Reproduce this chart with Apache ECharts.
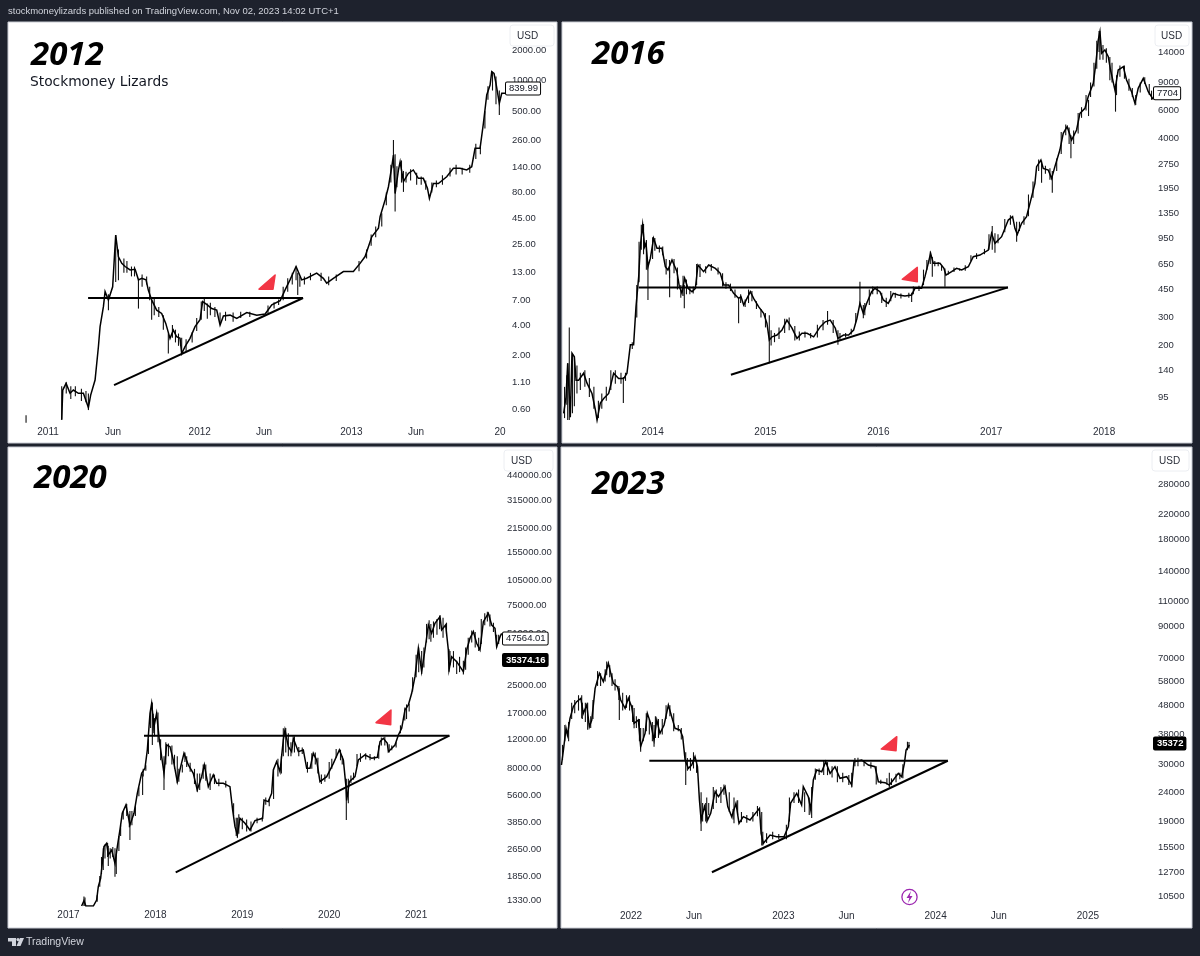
<!DOCTYPE html>
<html>
<head>
<meta charset="utf-8">
<title>BTC 2012 2016 2020 2023</title>
<script src="https://cdn.jsdelivr.net/npm/echarts@6/dist/echarts.min.js"></script>
<style>
  html, body { margin: 0; padding: 0; background: #1e222d; }
  #chart { width: 1200px; height: 956px; }
</style>
</head>
<body>
<div id="chart"></div>
<script>
// x values are decimal years, y values are USD
const line2012 = [[2011.09,0.47],[2011.097,0.92],[2011.119,1.07],[2011.145,0.855],[2011.167,0.92],[2011.2,0.855],[2011.233,0.855],[2011.266,0.62],[2011.281,0.82],[2011.31,1.155],[2011.332,2.45],[2011.343,3.86],[2011.365,6.06],[2011.376,8.5],[2011.398,7.05],[2011.426,9.5],[2011.435,16.1],[2011.446,30.5],[2011.464,18.7],[2011.486,16.1],[2011.508,15],[2011.541,13.9],[2011.574,14.1],[2011.596,11.1],[2011.618,11.5],[2011.646,11.1],[2011.661,8.8],[2011.683,7.05],[2011.716,5.6],[2011.749,5.2],[2011.776,4.15],[2011.804,2.96],[2011.826,3.57],[2011.848,3.07],[2011.87,2.96],[2011.881,2.1],[2011.903,2.45],[2011.936,2.96],[2011.969,3.86],[2012.002,4.5],[2012.019,6.78],[2012.03,7.05],[2012.05,6.3],[2012.079,5.8],[2012.112,5.6],[2012.134,4],[2012.156,4.9],[2012.2,5],[2012.244,4.65],[2012.31,5.3],[2012.376,4.98],[2012.431,5.13],[2012.475,6.3],[2012.53,6.93],[2012.562,8.8],[2012.595,11.1],[2012.635,15],[2012.672,11.1],[2012.705,11.5],[2012.771,12.9],[2012.815,11.5],[2012.837,10.3],[2012.881,11.5],[2012.947,13.4],[2013.013,13.4],[2013.057,16.1],[2013.09,18.8],[2013.134,29.4],[2013.178,35.6],[2013.189,46.3],[2013.222,67.4],[2013.244,91],[2013.266,143],[2013.277,186],[2013.288,78],[2013.31,133],[2013.321,160],[2013.343,102],[2013.375,123],[2013.408,133],[2013.441,110],[2013.474,110],[2013.501,88],[2013.514,70],[2013.54,98],[2013.573,98],[2013.628,114],[2013.672,138],[2013.716,138],[2013.76,133],[2013.793,143],[2013.815,217],[2013.848,217],[2013.87,381],[2013.892,723],[2013.914,907],[2013.925,1225],[2013.94,1180],[2013.953,942],[2013.975,600],[2013.991,752],[2014.024,752]];
const wicks2012 = [[2010.855,0.44,0.52],[2011.09,0.47,1],[2011.266,0.586,0.85],[2011.398,5.6,8],[2011.446,10.6,30.5],[2011.464,11,22],[2011.596,5.8,11.1],[2011.683,4.5,7],[2011.793,2.1,3.3],[2011.881,2.1,3],[2012.05,4.6,6.5],[2012.134,4.2,5.3],[2012.635,11,15],[2012.646,7.9,13],[2013.277,140,262],[2013.288,52,190],[2013.343,81,130],[2013.953,586,1100],[2013.975,460,800]];
const ranges2012 = [[2011.12,0.85,1.1],[2011.15,0.75,1],[2011.18,0.8,1],[2011.22,0.72,0.95],[2011.25,0.7,0.9],[2011.5,13,18],[2011.52,13,17],[2011.55,12,15],[2011.57,12,15],[2011.62,9.5,12.5],[2011.65,10,12],[2011.67,7,9.5],[2011.7,5,7.5],[2011.73,4.8,6],[2011.76,3.6,5],[2011.82,3,4],[2011.84,2.7,3.6],[2011.86,2.5,3.3],[2011.91,2.2,2.9],[2011.95,2.7,3.4],[2011.98,3.5,4.7],[2012.01,4.5,6.8],[2012.03,5.5,7.4],[2012.07,5,6.6],[2012.1,4.8,6],[2012.17,4.4,5.4],[2012.22,4.3,5.3],[2012.27,4.7,5.4],[2012.33,4.8,5.4],[2012.45,5.2,6.2],[2012.49,5.8,6.7],[2012.52,6.3,7.1],[2012.55,7,9.5],[2012.58,8.5,11.5],[2012.61,10,13],[2012.66,9.5,12],[2012.69,10,12],[2012.73,11,13],[2012.8,10.8,13],[2012.85,9.8,12],[2012.9,10.8,12.5],[2013.05,13.5,17],[2013.1,18,22],[2013.13,24,31],[2013.16,29,37],[2013.2,37,50],[2013.23,60,80],[2013.26,100,150],[2013.3,90,145],[2013.33,100,165],[2013.36,100,128],[2013.39,105,135],[2013.43,95,125],[2013.46,95,115],[2013.49,85,105],[2013.53,80,100],[2013.56,90,105],[2013.6,95,118],[2013.65,115,140],[2013.69,120,150],[2013.73,120,140],[2013.78,125,150],[2013.82,170,240],[2013.85,190,230],[2013.88,340,500],[2013.9,650,880],[2013.93,800,1225]];
const hLine2012 = [[2011.264,7.36],[2012.681,7.36]];
const trend2012 = [[2011.435,1.03],[2012.681,7.36]];
const flag2012 = [[2012.391,9],[2012.497,12.4],[2012.483,9]];
const ticks2012 = [2000,1000,500,260,140,80,45,25,13,7,4,2,1.1,0.6];
const xTicks2012 = [2011,2011.428,2012,2012.424,2013,2013.426,2013.98];
const xLabels2012 = ['2011','Jun','2012','Jun','2013','Jun','20'];

const line2016 = [[2013.212,75],[2013.233,95],[2013.248,155],[2013.271,71],[2013.286,179],[2013.307,170],[2013.322,121],[2013.345,121],[2013.389,134],[2013.419,116],[2013.463,100],[2013.493,79],[2013.508,68],[2013.537,87],[2013.567,93],[2013.611,100],[2013.655,134],[2013.699,124],[2013.744,124],[2013.773,134],[2013.803,202],[2013.832,202],[2013.853,351],[2013.877,542],[2013.891,836],[2013.912,1145],[2013.93,836],[2013.942,878],[2013.959,626],[2013.98,706],[2014.009,944],[2014.039,817],[2014.083,817],[2014.113,626],[2014.136,597],[2014.172,690],[2014.216,583],[2014.237,469],[2014.26,426],[2014.284,529],[2014.314,458],[2014.349,436],[2014.379,458],[2014.402,642],[2014.452,583],[2014.497,642],[2014.556,611],[2014.6,569],[2014.63,480],[2014.674,480],[2014.718,426],[2014.762,396],[2014.783,406],[2014.807,360],[2014.866,436],[2014.895,396],[2014.939,351],[2014.984,319],[2015.013,276],[2015.034,217],[2015.058,227],[2015.102,233],[2015.146,250],[2015.19,289],[2015.235,257],[2015.279,222],[2015.323,239],[2015.368,239],[2015.427,227],[2015.486,263],[2015.53,282],[2015.574,289],[2015.619,257],[2015.642,222],[2015.692,233],[2015.737,233],[2015.781,250],[2015.81,296],[2015.837,368],[2015.867,319],[2015.896,368],[2015.94,436],[2015.97,458],[2016.014,436],[2016.044,387],[2016.088,368],[2016.132,426],[2016.177,416],[2016.236,410],[2016.295,416],[2016.324,458],[2016.383,458],[2016.413,542],[2016.442,657],[2016.463,760],[2016.487,657],[2016.546,657],[2016.581,611],[2016.599,555],[2016.649,583],[2016.693,611],[2016.738,597],[2016.797,626],[2016.841,724],[2016.9,741],[2016.974,797],[2017.003,1015],[2017.033,878],[2017.092,967],[2017.151,1230],[2017.189,1291],[2017.21,1090],[2017.231,1000],[2017.269,1173],[2017.313,1291],[2017.358,1725],[2017.387,2092],[2017.402,2663],[2017.44,2932],[2017.461,2599],[2017.505,2537],[2017.535,2248],[2017.564,2663],[2017.608,3388],[2017.638,4313],[2017.673,4751],[2017.712,3917],[2017.756,4527],[2017.786,5760],[2017.83,6194],[2017.859,7332],[2017.904,8892],[2017.927,11875],[2017.948,16650],[2017.963,18790],[2017.978,13730],[2018.007,14405],[2018.037,13080],[2018.057,10785],[2018.096,8073],[2018.125,10785],[2018.17,11320],[2018.199,9333],[2018.243,7885],[2018.273,6660],[2018.302,8272],[2018.347,9559],[2018.391,7885],[2018.435,7054]];
const wicks2016 = [[2013.248,68,155],[2013.262,68,260],[2013.307,83,170],[2013.741,87,127],[2013.959,387,640],[2014.151,403,600],[2014.281,343,480],[2014.762,276,400],[2015.034,155,310],[2015.642,202,250],[2015.837,360,504],[2015.867,297,360],[2016.295,375,430],[2016.478,542,720],[2016.59,469,610],[2017.009,800,1127],[2017.033,765,1015],[2017.225,900,1200],[2017.446,2113,2900],[2017.541,1828,2500],[2017.706,3003,4200],[2017.862,5541,7000],[2017.963,12500,19000],[2018.051,9310,13000],[2018.101,5902,8800]];
const ranges2016 = [[2013.22,70,110],[2013.24,85,130],[2013.29,75,175],[2013.33,100,150],[2013.36,105,135],[2013.4,110,140],[2013.44,95,125],[2013.48,80,110],[2013.52,70,90],[2013.55,80,100],[2013.59,90,110],[2013.63,105,140],[2013.67,115,140],[2013.72,115,135],[2013.76,120,135],[2013.82,190,210],[2013.86,300,480],[2013.88,500,900],[2013.9,800,1150],[2013.92,750,1160],[2013.945,600,920],[2014,700,960],[2014.02,790,950],[2014.06,770,850],[2014.09,740,840],[2014.12,560,700],[2014.15,530,690],[2014.19,570,700],[2014.22,450,620],[2014.25,400,480],[2014.27,410,550],[2014.3,420,520],[2014.33,420,470],[2014.36,425,470],[2014.39,480,650],[2014.42,540,650],[2014.47,570,630],[2014.52,590,650],[2014.58,560,620],[2014.62,470,570],[2014.65,455,500],[2014.69,440,490],[2014.73,400,450],[2014.78,370,420],[2014.82,350,390],[2014.85,370,450],[2014.88,380,440],[2014.92,340,380],[2014.96,300,340],[2015,260,320],[2015.05,200,250],[2015.08,210,240],[2015.12,220,260],[2015.17,240,295],[2015.21,250,300],[2015.26,215,265],[2015.3,215,245],[2015.35,225,245],[2015.4,222,240],[2015.46,225,270],[2015.51,250,290],[2015.55,270,330],[2015.6,240,290],[2015.66,215,240],[2015.71,225,240],[2015.76,235,255],[2015.8,280,320],[2015.88,310,370],[2015.92,360,450],[2015.95,420,470],[2015.99,420,470],[2016.03,370,430],[2016.07,350,400],[2016.11,380,440],[2016.15,400,430],[2016.2,395,425],[2016.27,400,430],[2016.31,420,470],[2016.36,440,475],[2016.4,480,600],[2016.43,600,690],[2016.46,650,780],[2016.5,630,680],[2016.53,630,670],[2016.56,590,640],[2016.62,560,590],[2016.67,580,620],[2016.72,590,610],[2016.77,590,640],[2016.82,680,740],[2016.87,700,760],[2016.94,750,810],[2016.98,800,1000],[2017.06,880,1000],[2017.12,1030,1250],[2017.17,1150,1320],[2017.25,1050,1200],[2017.29,1150,1300],[2017.33,1300,1780],[2017.37,1700,2150],[2017.42,2500,2950],[2017.48,2400,2700],[2017.52,2200,2600],[2017.58,2500,3000],[2017.62,3200,4400],[2017.66,4200,4900],[2017.69,3700,4700],[2017.73,3700,4500],[2017.77,4300,5800],[2017.8,5400,6300],[2017.84,6000,7500],[2017.88,7300,9000],[2017.91,8500,12000],[2017.935,11000,16500],[2017.955,14000,19000],[2017.99,12500,15500],[2018.02,12000,14800],[2018.07,9000,12000],[2018.11,7500,10000],[2018.14,9800,11500],[2018.18,9500,11500],[2018.22,8000,9500],[2018.25,7300,8300],[2018.28,6500,7500],[2018.32,7800,9000],[2018.36,8800,9700],[2018.4,7500,8800],[2018.42,7000,8000]];
const hLine2016 = [[2013.877,464],[2017.148,464]];
const trend2016 = [[2014.694,131],[2017.148,464]];
const flag2016 = [[2016.212,522],[2016.345,620],[2016.345,504]];
const ticks2016 = [14000,9000,6000,4000,2750,1950,1350,950,650,450,300,200,140,95];
const xTicks2016 = [2014,2015,2016,2017,2018];
const xLabels2016 = ['2014','2015','2016','2017','2018'];

const line2020 = [[2017.151,1228],[2017.178,1321],[2017.2,1228],[2017.286,1228],[2017.324,1333],[2017.343,1600],[2017.37,1793],[2017.393,2303],[2017.408,2763],[2017.439,2892],[2017.458,2466],[2017.497,2641],[2017.535,2200],[2017.562,2763],[2017.592,3470],[2017.619,4358],[2017.661,4883],[2017.688,4164],[2017.707,3715],[2017.754,4358],[2017.792,5728],[2017.842,7527],[2017.88,8060],[2017.907,10355],[2017.938,17090],[2017.957,19590],[2017.984,14245],[2018.014,17090],[2018.045,11870],[2018.072,9452],[2018.099,7527],[2018.129,11085],[2018.168,10835],[2018.206,9033],[2018.252,6717],[2018.291,8246],[2018.329,9892],[2018.379,8437],[2018.436,7527],[2018.482,5995],[2018.532,7193],[2018.563,8437],[2018.609,6274],[2018.666,7360],[2018.705,6566],[2018.782,6566],[2018.858,6274],[2018.889,4560],[2018.916,3632],[2018.943,3241],[2018.973,4070],[2019.031,3802],[2019.088,3470],[2019.146,3945],[2019.234,4070],[2019.25,5229],[2019.299,5112],[2019.338,5728],[2019.357,7878],[2019.395,8829],[2019.434,7700],[2019.472,11870],[2019.491,13610],[2019.53,10835],[2019.568,10120],[2019.587,12143],[2019.645,10120],[2019.702,10355],[2019.741,8060],[2019.779,8060],[2019.817,9892],[2019.855,9033],[2019.894,6717],[2019.971,7192],[2020.048,8630],[2020.117,10355],[2020.163,9032],[2020.193,6274],[2020.201,5200],[2020.232,6717],[2020.297,7192],[2020.335,9032],[2020.412,9670],[2020.489,9240],[2020.554,9367],[2020.585,11600],[2020.623,12140],[2020.669,11340],[2020.681,10120],[2020.757,11085],[2020.796,12710],[2020.834,13925],[2020.872,17890],[2020.911,19150],[2020.949,22460],[2020.987,28200],[2021.026,41540],[2021.064,30200],[2021.102,40600],[2021.141,57130],[2021.179,51000],[2021.217,58450],[2021.275,64040],[2021.294,53370],[2021.34,57130],[2021.371,40600],[2021.379,31000],[2021.409,37070],[2021.467,34620],[2021.544,30200],[2021.582,40600],[2021.62,47620],[2021.659,52170],[2021.697,44480],[2021.735,40600],[2021.774,59800],[2021.831,67020],[2021.87,57130],[2021.908,54600],[2021.927,42500],[2021.966,48730],[2021.985,51000]];
const wicks2020 = [[2017.178,1228,1400],[2017.4,2009,2700],[2017.458,2120,2800],[2017.535,1834,2700],[2017.707,3027,4500],[2017.853,5600,7500],[2017.965,11085,19800],[2018.099,5995,9500],[2018.252,6566,9500],[2018.482,5845,7500],[2018.943,3120,4100],[2019.472,9500,13925],[2020.197,3978,7000],[2021.064,29250,40000],[2021.17,45500,58000],[2021.379,30200,41000],[2021.467,29250,35000],[2021.544,29000,35000],[2021.927,41910,50000]];
const ranges2020 = [[2017.19,1228,1380],[2017.33,1300,1420],[2017.36,1600,1850],[2017.38,1900,2400],[2017.42,2350,2850],[2017.45,2400,2900],[2017.48,2350,2700],[2017.51,2400,2750],[2017.55,1900,2500],[2017.58,2600,3200],[2017.6,3200,3700],[2017.63,4000,4500],[2017.67,4200,4950],[2017.7,3600,4300],[2017.73,3700,4500],[2017.77,4200,4800],[2017.81,5500,6200],[2017.86,7200,8000],[2017.89,7800,8400],[2017.92,9800,12000],[2017.945,14000,18000],[2017.975,13000,17000],[2017.99,12500,16000],[2018.03,11500,17300],[2018.06,9000,12000],[2018.12,8500,11500],[2018.15,9500,11300],[2018.19,8500,11000],[2018.22,8000,9700],[2018.27,6700,8000],[2018.31,7600,8500],[2018.34,8800,10000],[2018.36,8200,9500],[2018.4,7700,8700],[2018.45,6500,8000],[2018.51,6000,7500],[2018.55,7000,8500],[2018.58,6800,8500],[2018.63,6000,7500],[2018.68,6500,7400],[2018.73,6300,7000],[2018.81,6200,6800],[2018.9,4200,5000],[2018.93,3200,4100],[2018.96,3300,4300],[2019,3500,4100],[2019.05,3400,4000],[2019.1,3400,3900],[2019.17,3800,4100],[2019.23,3900,4150],[2019.27,4900,5400],[2019.31,4800,5300],[2019.36,5300,8000],[2019.41,7200,9200],[2019.45,7500,9500],[2019.5,10000,14000],[2019.53,9500,13000],[2019.56,9500,11500],[2019.6,10000,12500],[2019.65,9500,10800],[2019.69,9800,10700],[2019.75,7600,8800],[2019.8,8000,9900],[2019.84,8500,10000],[2019.87,7500,9300],[2019.91,6500,7400],[2019.95,6700,7400],[2020,7000,8800],[2020.03,8000,9200],[2020.08,9300,10500],[2020.13,9000,10400],[2020.15,8500,9500],[2020.22,5000,7000],[2020.25,6600,7300],[2020.28,6900,7600],[2020.32,8300,9800],[2020.36,8800,9900],[2020.42,9100,9900],[2020.47,9000,9800],[2020.52,9000,9500],[2020.57,9200,11000],[2020.6,11000,12300],[2020.64,11000,12400],[2020.69,10000,11200],[2020.72,10300,11000],[2020.77,10700,11500],[2020.82,13000,14500],[2020.87,15500,18500],[2020.89,15800,19300],[2020.92,17500,19500],[2020.96,23000,28000],[2021,28000,38000],[2021.03,30000,42000],[2021.09,32000,42000],[2021.12,45000,58000],[2021.15,47000,61000],[2021.2,48000,60000],[2021.24,50000,62000],[2021.27,54000,65000],[2021.31,48000,63000],[2021.35,50000,59000],[2021.39,33000,40000],[2021.43,32000,40000],[2021.5,30000,37000],[2021.57,31000,42000],[2021.6,38000,48000],[2021.64,45000,53000],[2021.68,42000,52000],[2021.72,40000,48000],[2021.75,44000,62000],[2021.79,57000,67000],[2021.82,60000,68500],[2021.85,56000,66000],[2021.89,52000,59000],[2021.95,44000,50000]];
const hLine2020 = [[2017.869,12585],[2021.383,12585]];
const trend2020 = [[2018.234,1947],[2021.383,12585]];
const flag2020 = [[2020.539,15040],[2020.711,17890],[2020.708,14630]];
const ticks2020 = [440000,315000,215000,155000,105000,75000,51000,25000,17000,12000,8000,5600,3850,2650,1850,1330];
const xTicks2020 = [2017,2018,2019,2020,2021];
const xLabels2020 = ['2017','2018','2019','2020','2021'];

const line2023 = [[2021.543,29810],[2021.556,33600],[2021.573,39930],[2021.582,37860],[2021.599,43240],[2021.621,47460],[2021.643,49390],[2021.67,50720],[2021.687,45000],[2021.709,48090],[2021.726,40460],[2021.742,42670],[2021.764,54930],[2021.792,61890],[2021.818,57910],[2021.851,67030],[2021.867,61890],[2021.884,57150],[2021.91,55660],[2021.932,50040],[2021.961,46830],[2021.982,50720],[2022.004,47460],[2022.02,41550],[2022.048,42670],[2022.063,34500],[2022.092,38360],[2022.107,45000],[2022.129,41550],[2022.151,36380],[2022.169,42670],[2022.19,38360],[2022.217,41000],[2022.245,48090],[2022.267,43820],[2022.289,39930],[2022.322,39400],[2022.339,37370],[2022.355,31020],[2022.376,29030],[2022.398,29810],[2022.42,31860],[2022.436,29420],[2022.449,22560],[2022.46,19230],[2022.482,21390],[2022.503,19230],[2022.523,20280],[2022.552,24100],[2022.574,23160],[2022.617,25080],[2022.635,21390],[2022.661,19750],[2022.689,21960],[2022.709,18730],[2022.737,19750],[2022.781,19230],[2022.843,21100],[2022.854,17290],[2022.869,15970],[2022.913,17060],[2022.956,16840],[2023.005,16840],[2023.033,18240],[2023.048,22000],[2023.088,23790],[2023.12,21680],[2023.131,25080],[2023.164,23160],[2023.18,20830],[2023.197,26450],[2023.219,28640],[2023.252,28260],[2023.278,30610],[2023.307,27890],[2023.339,29420],[2023.372,26810],[2023.416,27160],[2023.449,25410],[2023.464,30610],[2023.515,31020],[2023.558,29810],[2023.602,29420],[2023.624,26090],[2023.668,25890],[2023.696,25410],[2023.722,26450],[2023.755,27890],[2023.777,27160],[2023.795,30210],[2023.806,33600],[2023.828,34960]];
const wicks2023 = [[2021.676,43240,52000],[2021.923,42670,55000],[2022.02,39930,47000],[2022.063,33150,40000],[2022.151,34500,41000],[2022.359,25410,33000],[2022.46,17610,24000],[2022.497,18730,23000],[2022.676,18730,23000],[2022.858,15700,20500],[2023.186,19540,25000],[2023.449,24900,28000],[2023.696,24960,28000]];
const ranges2023 = [[2021.55,31000,35000],[2021.565,36000,41000],[2021.59,36000,42000],[2021.61,43000,49000],[2021.63,45000,50000],[2021.655,46000,52000],[2021.68,43000,49000],[2021.7,42000,49000],[2021.715,39500,49000],[2021.735,40000,44000],[2021.75,43000,50000],[2021.78,56000,63000],[2021.8,56000,62000],[2021.83,58000,64000],[2021.84,61000,68000],[2021.86,60000,66000],[2021.875,56000,62000],[2021.895,54000,59000],[2021.92,50000,56000],[2021.945,46000,53000],[2021.97,47000,52000],[2021.99,46000,52000],[2022.01,42000,48000],[2022.035,40000,44000],[2022.055,36000,43000],[2022.08,36000,40000],[2022.1,39000,45000],[2022.12,38000,43000],[2022.14,36000,42000],[2022.16,37000,44000],[2022.18,37000,43000],[2022.205,38000,43000],[2022.23,43000,48000],[2022.255,44000,48000],[2022.28,39000,45000],[2022.31,39000,41000],[2022.33,36500,40000],[2022.37,28500,31500],[2022.39,28500,31500],[2022.41,29000,33000],[2022.43,28000,31000],[2022.47,19000,22000],[2022.49,19000,22000],[2022.51,20000,22000],[2022.54,21000,25000],[2022.56,22000,24500],[2022.59,22000,25000],[2022.61,23500,25500],[2022.645,20500,24000],[2022.67,19300,21000],[2022.7,20000,22500],[2022.725,18900,20500],[2022.76,18800,20000],[2022.8,19000,20500],[2022.83,19800,21500],[2022.865,15700,17500],[2022.89,16000,17300],[2022.93,16500,17500],[2022.97,16500,17200],[2023.02,16500,18500],[2023.04,19000,23000],[2023.07,22000,24000],[2023.1,22000,24500],[2023.14,20500,24000],[2023.17,20000,23000],[2023.21,26500,29000],[2023.235,27500,29000],[2023.265,27500,31000],[2023.29,27500,30500],[2023.32,27000,29500],[2023.355,26000,29500],[2023.39,26000,28000],[2023.43,25400,27500],[2023.47,29500,31500],[2023.49,29500,31600],[2023.53,29500,31000],[2023.575,29000,30500],[2023.61,25500,29500],[2023.64,25600,26500],[2023.68,25500,26800],[2023.71,25400,26800],[2023.74,26000,27800],[2023.765,26600,28000],[2023.785,26800,30000],[2023.815,33500,35900],[2023.825,34000,35800]];
const hLine2023 = [[2022.12,30840],[2024.08,30840]];
const trend2023 = [[2022.531,12680],[2024.08,30840]];
const flag2023 = [[2023.643,33860],[2023.745,37360],[2023.74,33410]];
const ticks2023 = [280000,220000,180000,140000,110000,90000,70000,58000,48000,38000,30000,24000,19000,15500,12700,10500];
const xTicks2023 = [2022,2022.413,2023,2023.415,2024,2024.415,2025];
const xLabels2023 = ['2022','Jun','2023','Jun','2024','Jun','2025'];

const panels = [
  {line: line2012, wicks: wicks2012.concat(ranges2012), hLine: hLine2012, trend: trend2012, flag: flag2012, ticks: ticks2012, digits: 2,
   xTicks: xTicks2012, xLabels: xLabels2012, tags: [[839.99, '839.99', false]], tickMargin: 6,
   grid: {left: 8, top: 23, width: 498, height: 400}, xRange: [2010.736, 2014.019], yRange: [0.437, 3681]},
  {line: line2016, wicks: wicks2016.concat(ranges2016), hLine: hLine2016, trend: trend2016, flag: flag2016, ticks: ticks2016, digits: 0,
   xTicks: xTicks2016, xLabels: xLabels2016, tags: [[7704, '7704', false]], tickMargin: 4,
   grid: {left: 562, top: 23, width: 592, height: 400}, xRange: [2013.1975, 2018.442], yRange: [65.2, 21300]},
  {line: line2020, wicks: wicks2020.concat(ranges2020), hLine: hLine2020, trend: trend2020, flag: flag2020, ticks: ticks2020, digits: 2,
   xTicks: xTicks2020, xLabels: xLabels2020, tags: [[47564.01, '47564.01', false], [35374.16, '35374.16', true]], tickMargin: 4,
   grid: {left: 8, top: 447, width: 495, height: 459}, xRange: [2016.304, 2022], yRange: [1228, 650600]},
  {line: line2023, wicks: wicks2023.concat(ranges2023), hLine: hLine2023, trend: trend2023, flag: flag2023, ticks: ticks2023, digits: 0,
   xTicks: xTicks2023, xLabels: xLabels2023, tags: [[35372, '35372', true]], tickMargin: 4,
   grid: {left: 561, top: 447, width: 593, height: 460}, xRange: [2021.54, 2025.434], yRange: [9612, 376000]}
];

const tickFont = 'Liberation Sans';
const grids = [], xAxes = [], yAxes = [], series = [];

panels.forEach(function (p, i) {
  grids.push(p.grid);
  xAxes.push({
    type: 'value', gridIndex: i, min: p.xRange[0], max: p.xRange[1],
    axisLine: {show: false}, axisTick: {show: false}, splitLine: {show: false},
    axisLabel: {
      customValues: p.xTicks, margin: 4, color: '#2a2e39', fontFamily: tickFont, fontSize: 10,
      formatter: function (v) {
        return p.xLabels[p.xTicks.indexOf(v)];
      }
    }
  });
  yAxes.push({
    type: 'log', logBase: 10, gridIndex: i, position: 'right', min: p.yRange[0], max: p.yRange[1],
    axisLine: {show: false}, axisTick: {show: false}, splitLine: {show: false}, minorSplitLine: {show: false},
    axisLabel: {
      customValues: p.ticks, margin: p.tickMargin, color: '#2a2e39', fontFamily: tickFont, fontSize: 9.5,
      formatter: function (v) {
        return Number(v).toFixed(p.digits);
      }
    }
  });

  series.push({
    type: 'line', xAxisIndex: i, yAxisIndex: i, data: p.line, showSymbol: false, silent: true,
    lineStyle: {color: '#000', width: 1.5, join: 'miter'},
    markPoint: {
      symbol: 'rect', symbolSize: 0, silent: true,
      data: p.tags.map(function (t) {
        return {
          coord: [p.xRange[1], t[0]], value: t[1],
          label: {
            show: true, position: 'right', distance: 0, formatter: t[1],
            fontFamily: tickFont, fontSize: 9.5, padding: [1, 2, 1, 3],
            color: t[2] ? '#fff' : '#131722', fontWeight: t[2] ? 'bold' : 'normal',
            backgroundColor: t[2] ? '#000' : '#fff', borderColor: '#000', borderWidth: 1, borderRadius: 1
          }
        };
      })
    }
  });
  series.push({
    type: 'custom', xAxisIndex: i, yAxisIndex: i, data: p.wicks, silent: true,
    encode: {x: 0, y: [1, 2]},
    renderItem: function (params, api) {
      const a = api.coord([api.value(0), api.value(1)]);
      const b = api.coord([api.value(0), api.value(2)]);
      return {type: 'line', shape: {x1: a[0], y1: a[1], x2: b[0], y2: b[1]}, style: {stroke: '#111', lineWidth: 1.1}};
    }
  });
  [p.hLine, p.trend].forEach(function (d) {
    series.push({
      type: 'line', xAxisIndex: i, yAxisIndex: i, data: d, showSymbol: false, silent: true,
      lineStyle: {color: '#000', width: 2}
    });
  });
  series.push({
    type: 'custom', xAxisIndex: i, yAxisIndex: i, data: p.flag, silent: true,
    encode: {x: 0, y: 1},
    renderItem: function (params, api) {
      if (params.dataIndex !== 0) return null;
      const pts = p.flag.map(function (d) { return api.coord(d); });
      return {type: 'polygon', shape: {points: pts}, style: {fill: '#f23645', stroke: '#f23645', lineWidth: 1.5, lineJoin: 'round'}};
    }
  });
});

const titleBase = {fontFamily: 'Noto Sans', fontSize: 33, fontWeight: 'bold', fontStyle: 'italic', color: '#000'};
const titles = [
  {text: 'stockmoneylizards published on TradingView.com, Nov 02, 2023 14:02 UTC+1', left: 8, top: 6, padding: 0, textStyle: {fontFamily: tickFont, fontSize: 9.5, fontWeight: 'normal', color: '#d1d4dc'}},
  {text: '2012', left: 31, top: 39, padding: 0, textStyle: titleBase},
  {text: 'Stockmoney Lizards', left: 30, top: 75, padding: 0, textStyle: {fontFamily: 'DejaVu Sans', fontSize: 13.8, fontWeight: 'normal', color: '#131722'}},
  {text: '2016', left: 592, top: 38, padding: 0, textStyle: titleBase},
  {text: '2020', left: 34, top: 462, padding: 0, textStyle: titleBase},
  {text: '2023', left: 592, top: 468, padding: 0, textStyle: titleBase},
  {text: 'TradingView', left: 26, top: 937, padding: 0, textStyle: {fontFamily: tickFont, fontSize: 10.5, fontWeight: 'normal', color: '#d1d4dc'}}
];

function panelRect(x, y, w, h) {
  return {type: 'rect', z: -10, shape: {x: x, y: y, width: w, height: h}, style: {fill: '#fff', stroke: '#c9ccd4', lineWidth: 1}};
}
function usdBox(x, y, w, textX) {
  return [
    {type: 'rect', z: 100, shape: {x: x, y: y, width: w, height: 21, r: 3}, style: {fill: '#fff', stroke: '#eceef2', lineWidth: 1}},
    {type: 'text', z: 101, style: {x: textX, y: y + 6, text: 'USD', fill: '#2a2e39', font: '10px ' + tickFont}}
  ];
}
const graphics = [
  panelRect(8, 22, 549, 421), panelRect(562, 22, 630, 421),
  panelRect(8, 447, 549, 481), panelRect(561, 447, 631, 481)
].concat(
  usdBox(510, 25, 44, 517), usdBox(1155, 25, 34, 1161), usdBox(504, 450, 49, 511), usdBox(1152, 450, 37, 1159),
  [
    {type: 'circle', z: 100, shape: {cx: 909.5, cy: 897, r: 7.6}, style: {fill: '#fff', stroke: '#9c27b0', lineWidth: 1.3}},
    {type: 'polygon', z: 101, shape: {points: [[911, 891], [906.5, 898], [909.3, 898], [908, 903], [912.5, 896], [909.7, 896]]}, style: {fill: '#9c27b0'}},
    {type: 'polygon', shape: {points: [[8, 938], [16, 938], [16, 946], [12, 946], [12, 941.5], [8, 941.5]]}, style: {fill: '#d1d4dc'}},
    {type: 'circle', shape: {cx: 18, cy: 939.6, r: 1.6}, style: {fill: '#d1d4dc'}},
    {type: 'polygon', shape: {points: [[20, 938], [24, 938], [20.5, 946], [16.5, 946]]}, style: {fill: '#d1d4dc'}}
  ]
);

const chart = echarts.init(document.getElementById('chart'));
chart.setOption({
  animation: false,
  backgroundColor: '#1e222d',
  title: titles,
  grid: grids,
  xAxis: xAxes,
  yAxis: yAxes,
  series: series,
  graphic: graphics
});
</script>
</body>
</html>
